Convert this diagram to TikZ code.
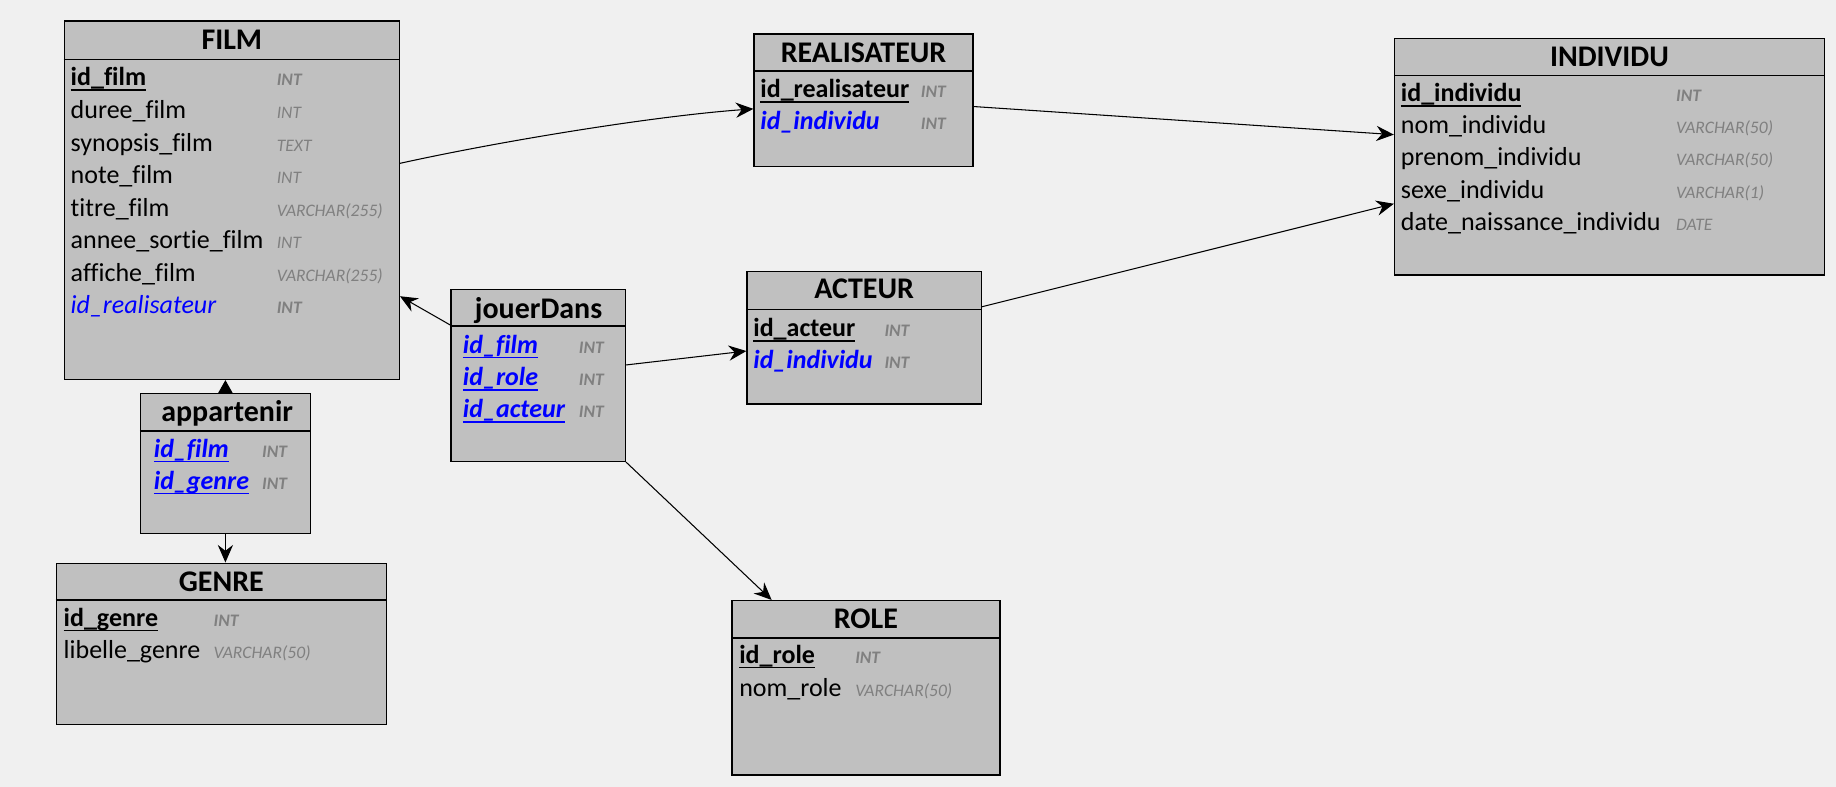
\documentclass[tikz,border=0pt]{standalone}
\usepackage{fontspec}
\setmainfont{Carlito}[Ligatures=NoCommon]
\usetikzlibrary{arrows.meta,fit,calc}
\definecolor{bg}{HTML}{F0F0F0}
\definecolor{boxgray}{HTML}{C0C0C0}
\definecolor{fkblue}{HTML}{0000FF}
\definecolor{typegray}{HTML}{808080}
\newcommand\ulx[1]{\setbox0\hbox{#1}\rlap{\rule[-2.1pt]{\wd0}{0.6pt}}#1}
\newcommand\erbox[6]{%
  \node[tbl, fit={(#2,#3) (#4,#5)}] (#1) {};
  \draw[line width=0.6pt] (#1.west |- 0,#6) -- (#1.east |- 0,#6);}
\newcommand\erow[8]{%
  \node[#5] (#1) at (#2,#4) {#6};
  \node[#7] (#1-t) at (#3,#4) {#8};}
\tikzset{
  tbl/.style={draw=black, line width=0.6pt, fill=boxgray, inner sep=0pt},
  ttl/.style={anchor=base, inner sep=0pt, font=\fontsize{12.8}{14}\selectfont\bfseries},
  fld/.style={anchor=base west, inner sep=0pt, font=\fontsize{11.1}{13}\selectfont},
  pk/.style={fld, font=\fontsize{11.1}{13}\selectfont\bfseries},
  fk/.style={fld, text=fkblue, font=\fontsize{11.1}{13}\selectfont\itshape},
  fkb/.style={fld, text=fkblue, font=\fontsize{11.1}{13}\selectfont\bfseries\itshape},
  typ/.style={anchor=base west, inner sep=0pt, text=typegray, font=\fontsize{7.5}{9}\selectfont\itshape},
  typk/.style={typ, font=\fontsize{7.5}{9}\selectfont\bfseries\itshape},
  rel/.style={line width=0.45pt, -{Stealth[length=7.5pt,width=6.5pt,inset=2.5pt]}},
  relshort/.style={line width=0.45pt, -{Triangle[length=5.8pt,width=6.4pt]}}
}
\begin{document}
\begin{tikzpicture}[x=0.5pt,y=-0.5pt]
\fill[bg] (0,0) rectangle (1568,672);
\useasboundingbox (0,0) rectangle (1568,672);

% FILM
\erbox{film}{55}{18}{341}{324}{50.7}
\node[ttl] (film-title) at (198,42) {FILM};
\erow{film-r1}{60}{236}{73.4}{pk}{\ulx{id\_film}}{typk}{INT}
\erow{film-r2}{60}{236}{101.2}{fld}{duree\_film}{typ}{INT}
\erow{film-r3}{60}{236}{129}{fld}{synopsis\_film}{typ}{TEXT}
\erow{film-r4}{60}{236}{156.8}{fld}{note\_film}{typ}{INT}
\erow{film-r5}{60}{236}{184.6}{fld}{titre\_film}{typ}{VARCHAR(255)}
\erow{film-r6}{60}{236}{212.4}{fld}{annee\_sortie\_film}{typ}{INT}
\erow{film-r7}{60}{236}{240.2}{fld}{affiche\_film}{typ}{VARCHAR(255)}
\erow{film-r8}{60}{236}{268}{fk}{id\_realisateur}{typk}{INT}

% REALISATEUR
\erbox{real}{644}{29}{831}{142}{60.6}
\node[ttl] (real-title) at (737.5,53.5) {REALISATEUR};
\erow{real-r1}{649}{786}{83.4}{pk}{\ulx{id\_realisateur}}{typk}{INT}
\erow{real-r2}{649}{786}{111}{fkb}{id\_individu}{typk}{INT}

% INDIVIDU
\erbox{indiv}{1191}{33}{1558}{235}{64.6}
\node[ttl] (indiv-title) at (1374.5,56.4) {INDIVIDU};
\erow{indiv-r1}{1196}{1431}{86.8}{pk}{\ulx{id\_individu}}{typk}{INT}
\erow{indiv-r2}{1196}{1431}{114.2}{fld}{nom\_individu}{typ}{VARCHAR(50)}
\erow{indiv-r3}{1196}{1431}{141.6}{fld}{prenom\_individu}{typ}{VARCHAR(50)}
\erow{indiv-r4}{1196}{1431}{169.2}{fld}{sexe\_individu}{typ}{VARCHAR(1)}
\erow{indiv-r5}{1196}{1431}{196.6}{fld}{date\_naissance\_individu}{typ}{DATE}

% ACTEUR
\erbox{act}{638}{232}{838}{345}{264.2}
\node[ttl] (act-title) at (738,255.3) {ACTEUR};
\erow{act-r1}{643}{755}{287.5}{pk}{\ulx{id\_acteur}}{typk}{INT}
\erow{act-r2}{643}{755}{314.5}{fkb}{id\_individu}{typk}{INT}

% jouerDans
\erbox{jd}{385}{247}{534}{394}{278.4}
\node[ttl] (jd-title) at (460,271.8) {jouerDans};
\erow{jd-r1}{395}{494}{301.7}{fkb}{\ulx{id\_film}}{typk}{INT}
\erow{jd-r2}{395}{494}{329.6}{fkb}{\ulx{id\_role}}{typk}{INT}
\erow{jd-r3}{395}{494}{356.7}{fkb}{\ulx{id\_acteur}}{typk}{INT}

% appartenir
\erbox{app}{120}{336}{265}{455.5}{368}
\node[ttl] (app-title) at (194,360) {appartenir};
\erow{app-r1}{131}{223.5}{390.5}{fkb}{\ulx{id\_film}}{typk}{INT}
\erow{app-r2}{131}{223.5}{418}{fkb}{\ulx{id\_genre}}{typk}{INT}

% GENRE
\erbox{genre}{48}{481}{330}{619}{512.4}
\node[ttl] (genre-title) at (189,505) {GENRE};
\erow{genre-r1}{54}{182}{535}{pk}{\ulx{id\_genre}}{typk}{INT}
\erow{genre-r2}{54}{182}{562}{fld}{libelle\_genre}{typ}{VARCHAR(50)}

% ROLE
\erbox{role}{625}{513}{854}{662}{545}
\node[ttl] (role-title) at (739.5,536.6) {ROLE};
\erow{role-r1}{631}{730}{566.5}{pk}{\ulx{id\_role}}{typk}{INT}
\erow{role-r2}{631}{730}{595}{fld}{nom\_role}{typ}{VARCHAR(50)}

% relations
\draw[rel] (film.east |- 0,139.5) .. controls (430,120) and (560,99) .. (real.west |- 0,93);
\draw[rel] (real.east |- 0,91) -- (indiv.west |- 0,115);
\draw[rel] (act.east |- 0,262) -- (indiv.west |- 0,174);
\draw[rel] (jd.west |- 0,277.5) -- (film.east |- 0,253);
\draw[rel] (jd.east |- 0,311.7) -- (act.west |- 0,299.8);
\draw[rel] (jd.south east) -- (role.north -| 659,0);
\draw[relshort] (app.north) -- (app.north |- film.south);
\draw[rel] (app.south) -- (app.south |- genre.north);
\end{tikzpicture}
\end{document}
